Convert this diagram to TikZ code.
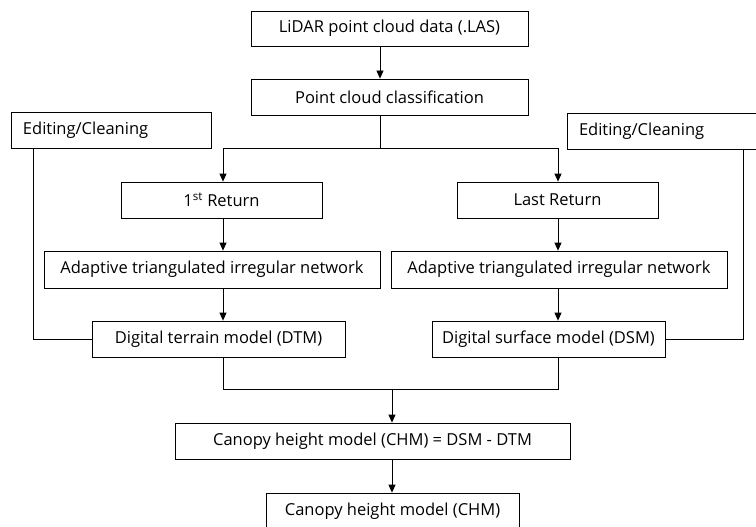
\documentclass[tikz,border=0pt]{standalone}
\usepackage{fontspec}
\setmainfont{Open Sans}
\usetikzlibrary{arrows.meta}
\begin{document}
\begin{tikzpicture}[x=1pt,y=-1pt,
  box/.style={draw=black,line width=0.8pt,inner sep=0pt,align=center,
    font=\fontsize{16.5}{18}\selectfont},
  edbox/.style={draw=black,line width=0.8pt,inner xsep=12pt,inner ysep=0pt,
    text width=176pt,minimum height=36pt,align=left,
    font=\fontsize{16.5}{18}\selectfont},
  link/.style={line width=0.8pt,draw=black},
  arr/.style={link,-{Triangle[length=8pt,width=7pt]}}]
\useasboundingbox (0,0) rectangle (756,527);
\clip (0,0) rectangle (756,527);

% processing boxes
\node[box,minimum width=277pt,minimum height=35pt] (lidar)  at (389.5,28.5) {LiDAR point cloud data (.LAS)};
\node[box,minimum width=277pt,minimum height=36pt] (classif) at (389.5,97) {Point cloud classification};
\node[box,minimum width=201pt,minimum height=36pt] (ret1)   at (221.5,200) {1\textsuperscript{st} Return};
\node[box,minimum width=201pt,minimum height=36pt] (retL)   at (557.5,200) {Last Return};
\node[box,minimum width=336pt,minimum height=37pt] (atinL)  at (212,269.5) {Adaptive triangulated irregular network};
\node[box,minimum width=336pt,minimum height=37pt] (atinR)  at (559,269.5) {Adaptive triangulated irregular network};
\node[box,minimum width=253pt,minimum height=36pt] (dtm)    at (218.5,339) {Digital terrain model (DTM)};
\node[box,minimum width=233pt,minimum height=36pt] (dsm)    at (548.5,339) {Digital surface model (DSM)};
\node[box,minimum width=395pt,minimum height=36pt] (chmeq)  at (372.5,441) {Canopy height model (CHM) = DSM - DTM};
\node[box,minimum width=253pt,minimum height=36pt] (chm)    at (392.5,511) {Canopy height model (CHM)};

% editing boxes
\node[edbox] (edL) at (111,130) {Editing/Cleaning};
\node[edbox] (edR) at (667,131.5) {Editing/Cleaning};

% routing coordinates
\coordinate (xtop) at (380,0);
\coordinate (xl) at (223,0);
\coordinate (xr) at (558,0);
\coordinate (xm) at (392,0);
\coordinate (xel) at (33,0);
\coordinate (xer) at (743,0);
\coordinate (split) at (0,148);
\coordinate (merge) at (0,389);

% main flow
\draw[arr] (lidar.south -| xtop) -- (classif.north -| xtop);
\draw[link] (classif.south -| xtop) -- (split -| xtop);
\draw[arr] (split -| xl) -- (ret1.north -| xl);
\draw[arr] (split -| xr) -- (retL.north -| xr);
\draw[link] (split -| xl) -- (split -| xr);
\draw[arr] (ret1.south -| xl) -- (atinL.north -| xl);
\draw[arr] (atinL.south -| xl) -- (dtm.north -| xl);
\draw[arr] (retL.south -| xr) -- (atinR.north -| xr);
\draw[arr] (atinR.south -| xr) -- (dsm.north -| xr);
\draw[link] (dtm.south -| xl) -- (merge -| xl) -- (merge -| xr) -- (dsm.south -| xr);
\draw[arr] (merge -| xm) -- (chmeq.north -| xm);
\draw[arr] (chmeq.south -| xm) -- (chm.north -| xm);

% editing feedback lines
\draw[link] (edL.south -| xel) |- (dtm.west);
\draw[link] (edR.south -| xer) |- (dsm.east);
\end{tikzpicture}
\end{document}
